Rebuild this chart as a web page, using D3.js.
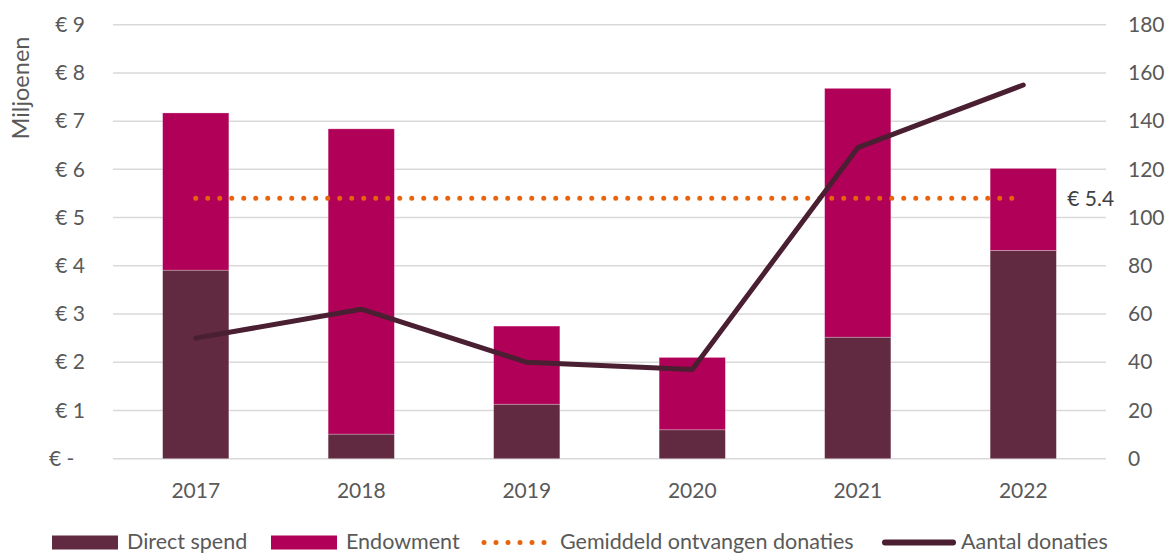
<!DOCTYPE html>
<html><head><meta charset="utf-8">
<script src="https://cdn.jsdelivr.net/npm/d3@7"></script>
<style>
body{margin:0;background:#fff;}
svg text{font-family:Lato, "Open Sans", sans-serif;fill:#595959;}
</style>
</head><body>
<svg id="chart" width="1167" height="554"></svg>
<script>
// ---- data ----
const categories = ["2017", "2018", "2019", "2020", "2021", "2022"];
const directSpend = [3.91, 0.51, 1.13, 0.60, 2.52, 4.32];
const endowment = [3.26, 6.33, 1.62, 1.50, 5.16, 1.70];
const aantalDonaties = [50, 62, 40, 37, 129, 155];
const gemiddeld = [5.4, 5.4, 5.4, 5.4, 5.4, 5.4];
const leftTicks = [0, 1, 2, 3, 4, 5, 6, 7, 8, 9];
const rightTicks = [0, 20, 40, 60, 80, 100, 120, 140, 160, 180];
const seriesNames = ["Direct spend", "Endowment", "Gemiddeld ontvangen donaties", "Aantal donaties"];
const averageLabel = "€ 5.4";
const yTitle = "Miljoenen";

// ---- styles ----
const C_DIRECT = "#622A40", C_ENDOW = "#B00058", C_AVG = "#E8640C", C_LINE = "#4B1F32", C_GRID = "#D9D9D9";
const FS = 21, FS_LEG = 21.5, FS_TITLE = 23.5;

const svg = d3.select("#chart");
const plot = {left: 113, right: 1106, top: 24.7, bottom: 458.7};

const x = d3.scaleBand().domain(categories).range([plot.left, plot.right]).paddingInner(0.6).paddingOuter(0.3);
const yL = d3.scaleLinear().domain([0, 9]).range([plot.bottom, plot.top]);
const yR = d3.scaleLinear().domain([0, 180]).range([plot.bottom, plot.top]);
const cx = c => x(c) + x.bandwidth() / 2;

// gridlines
svg.append("g").selectAll("line").data(leftTicks).join("line")
  .attr("x1", plot.left).attr("x2", plot.right)
  .attr("y1", d => yL(d)).attr("y2", d => yL(d))
  .attr("stroke", C_GRID).attr("stroke-width", 1.5);

// stacked bars
const stackData = categories.map((c, i) => ({cat: c, direct: directSpend[i], endow: endowment[i]}));
const stacked = d3.stack().keys(["direct", "endow"])(stackData);
const colors = {direct: C_DIRECT, endow: C_ENDOW};
svg.append("g").selectAll("g").data(stacked).join("g")
  .attr("fill", d => colors[d.key])
  .selectAll("rect").data(d => d).join("rect")
  .attr("x", d => x(d.data.cat)).attr("width", x.bandwidth())
  .attr("y", d => yL(d[1])).attr("height", d => yL(d[0]) - yL(d[1]))
  .attr("stroke", "rgba(255,255,255,0.35)").attr("stroke-width", 0.75);

// average dotted line
svg.append("path")
  .datum(categories.map((c, i) => [cx(c), yL(gemiddeld[i])]))
  .attr("d", d3.line())
  .attr("fill", "none").attr("stroke", C_AVG).attr("stroke-width", 5)
  .attr("stroke-linecap", "round").attr("stroke-dasharray", "0 12");

svg.append("text")
  .attr("x", cx(categories[categories.length - 1]) + 44)
  .attr("y", yL(gemiddeld[gemiddeld.length - 1]))
  .attr("dy", "0.35em").style("font-size", FS + "px")
  .style("fill", "#404040")
  .text(averageLabel);

// line
svg.append("path")
  .datum(categories.map((c, i) => [cx(c), yR(aantalDonaties[i])]))
  .attr("d", d3.line())
  .attr("fill", "none").attr("stroke", C_LINE).attr("stroke-width", 5)
  .attr("stroke-linecap", "round").attr("stroke-linejoin", "round");

// axes
const fmtEuro = d => d === 0 ? "€ -\u00A0\u00A0" : "€ " + d;
const gL = svg.append("g").attr("transform", "translate(85,0)")
  .call(d3.axisLeft(yL).tickValues(leftTicks).tickFormat(fmtEuro).tickSize(0).tickPadding(0));
const gR = svg.append("g").attr("transform", "translate(1128,0)")
  .call(d3.axisRight(yR).tickValues(rightTicks).tickSize(0).tickPadding(0));
const gX = svg.append("g").attr("transform", `translate(0,${plot.bottom})`)
  .call(d3.axisBottom(x).tickSize(0).tickPadding(24));
[gL, gR, gX].forEach(g => {
  g.select(".domain").remove();
  g.selectAll("text").style("font-size", FS + "px").attr("fill", null).style("font-family", null);
  g.attr("font-family", null).attr("font-size", null);
});
gL.selectAll("text").style("white-space", "pre");

// y title
svg.append("text")
  .attr("transform", "translate(21,88) rotate(-90)")
  .attr("text-anchor", "middle").attr("dy", "0.35em")
  .style("font-size", FS_TITLE + "px").text(yTitle);

// legend
const legY = 541.5;
const legItems = [
  {name: seriesNames[0], type: "rect", color: C_DIRECT, sx: 52, tx: 127},
  {name: seriesNames[1], type: "rect", color: C_ENDOW, sx: 271, tx: 346},
  {name: seriesNames[2], type: "dots", color: C_AVG, sx: 484, tx: 560},
  {name: seriesNames[3], type: "line", color: C_LINE, sx: 885, tx: 961}
];
const leg = svg.append("g");
legItems.forEach(it => {
  if (it.type === "rect") {
    leg.append("rect").attr("x", it.sx).attr("y", legY - 6).attr("width", 66).attr("height", 14).attr("fill", it.color);
  } else if (it.type === "dots") {
    leg.append("line").attr("x1", it.sx).attr("x2", it.sx + 64).attr("y1", legY + 1).attr("y2", legY + 1)
      .attr("stroke", it.color).attr("stroke-width", 5).attr("stroke-linecap", "round").attr("stroke-dasharray", "0 12");
  } else {
    leg.append("line").attr("x1", it.sx).attr("x2", it.sx + 68).attr("y1", legY + 1).attr("y2", legY + 1)
      .attr("stroke", it.color).attr("stroke-width", 6).attr("stroke-linecap", "round");
  }
  leg.append("text").attr("x", it.tx).attr("y", legY).attr("dy", "0.35em")
    .style("font-size", FS_LEG + "px").text(it.name);
});
</script>
</body></html>
